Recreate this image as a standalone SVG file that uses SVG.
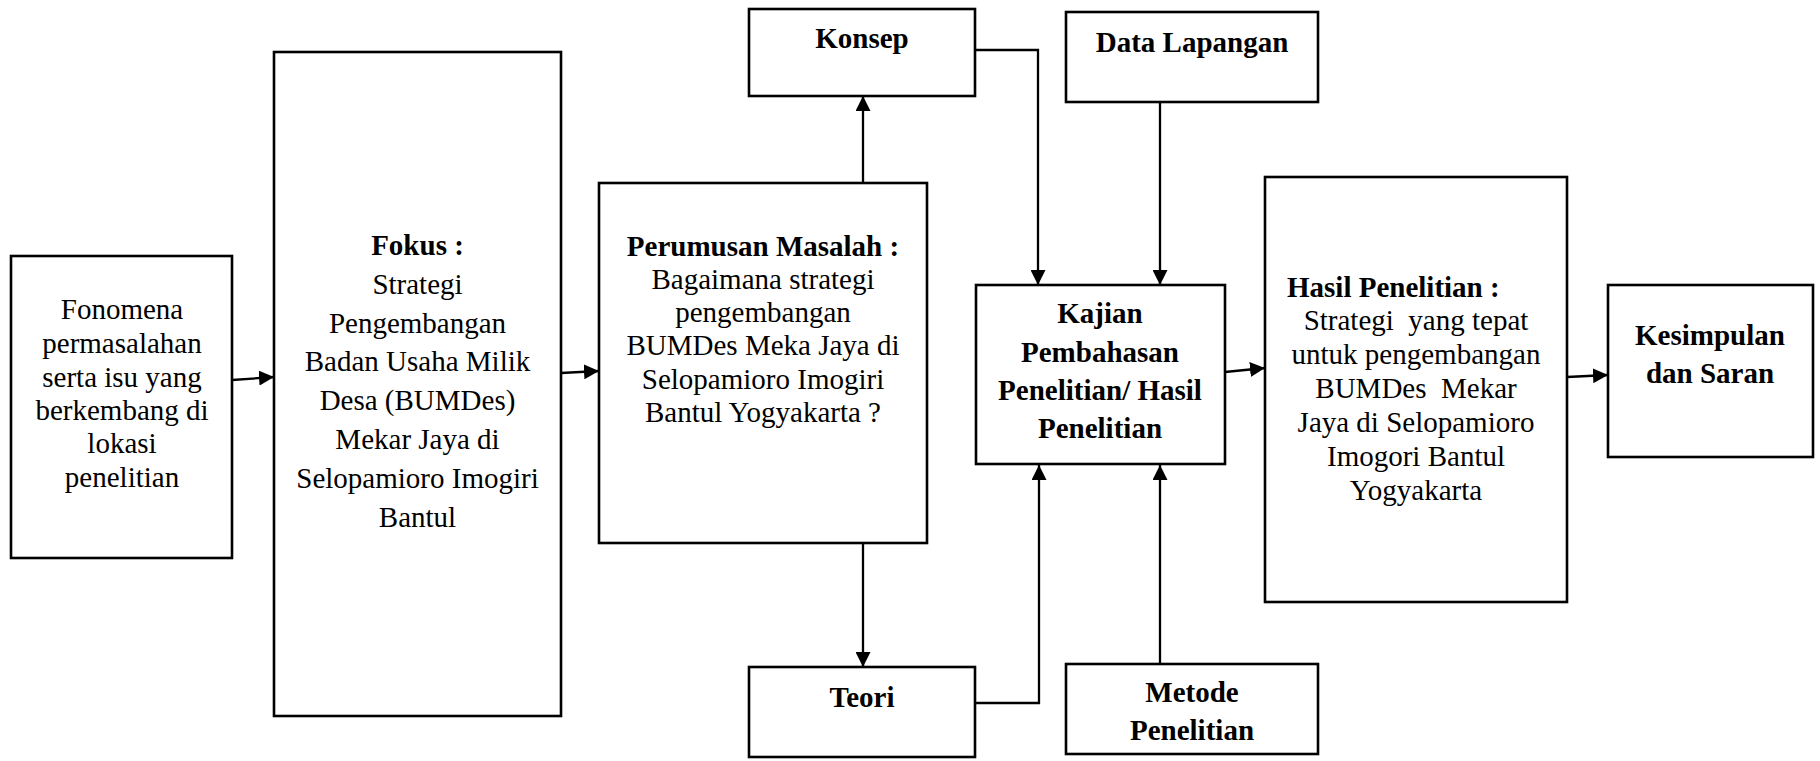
<svg xmlns="http://www.w3.org/2000/svg" width="1820" height="761" viewBox="0 0 1820 761">
<style>
.box{fill:#fff;stroke:#000;stroke-width:2.6}
.t{font-family:'Liberation Serif','Times New Roman',serif;font-size:29px;fill:#000;text-anchor:middle}
.b{font-weight:bold}
.ln{fill:none;stroke:#000;stroke-width:2.3}
</style>
<defs>
<marker id="ah" markerUnits="userSpaceOnUse" markerWidth="16" markerHeight="15" refX="15" refY="7.5" orient="auto">
<path d="M0,0 L15,7.5 L0,15 z" fill="#000"/>
</marker>
</defs>
<rect width="1820" height="761" fill="#fff"/>

<g id="connectors">
<line class="ln" x1="232" y1="380" x2="274" y2="377" marker-end="url(#ah)"/>
<line class="ln" x1="561" y1="373" x2="599" y2="371" marker-end="url(#ah)"/>
<line class="ln" x1="863" y1="183" x2="863" y2="96" marker-end="url(#ah)"/>
<line class="ln" x1="863" y1="543" x2="863" y2="667" marker-end="url(#ah)"/>
<polyline class="ln" points="975,50 1038,50 1038,285" marker-end="url(#ah)"/>
<line class="ln" x1="1160" y1="102" x2="1160" y2="285" marker-end="url(#ah)"/>
<polyline class="ln" points="975,703 1039,703 1039,465" marker-end="url(#ah)"/>
<line class="ln" x1="1160" y1="664" x2="1160" y2="465" marker-end="url(#ah)"/>
<line class="ln" x1="1225" y1="372" x2="1265" y2="368" marker-end="url(#ah)"/>
<line class="ln" x1="1567" y1="377" x2="1608" y2="375" marker-end="url(#ah)"/>
</g>

<g id="fonomena">
<rect class="box" x="11" y="256" width="221" height="302"/>
<text class="t" x="122" y="319">Fonomena</text>
<text class="t" x="122" y="353">permasalahan</text>
<text class="t" x="122" y="387">serta isu yang</text>
<text class="t" x="122" y="420">berkembang di</text>
<text class="t" x="122" y="453">lokasi</text>
<text class="t" x="122" y="487">penelitian</text>
</g>

<g id="fokus">
<rect class="box" x="274" y="52" width="287" height="664"/>
<text class="t b" x="417.5" y="255">Fokus :</text>
<text class="t" x="417.5" y="294">Strategi</text>
<text class="t" x="417.5" y="333">Pengembangan</text>
<text class="t" x="417.5" y="371">Badan Usaha Milik</text>
<text class="t" x="417.5" y="410">Desa (BUMDes)</text>
<text class="t" x="417.5" y="449">Mekar Jaya di</text>
<text class="t" x="417.5" y="488">Selopamioro Imogiri</text>
<text class="t" x="417.5" y="527">Bantul</text>
</g>

<g id="perumusan">
<rect class="box" x="599" y="183" width="328" height="360"/>
<text class="t b" x="763" y="256">Perumusan Masalah :</text>
<text class="t" x="763" y="289">Bagaimana strategi</text>
<text class="t" x="763" y="322">pengembangan</text>
<text class="t" x="763" y="355">BUMDes Meka Jaya di</text>
<text class="t" x="763" y="389">Selopamioro Imogiri</text>
<text class="t" x="763" y="422">Bantul Yogyakarta ?</text>
</g>

<g id="konsep">
<rect class="box" x="749" y="9" width="226" height="87"/>
<text class="t b" x="862" y="48">Konsep</text>
</g>

<g id="teori">
<rect class="box" x="749" y="667" width="226" height="90"/>
<text class="t b" x="862" y="707">Teori</text>
</g>

<g id="data-lapangan">
<rect class="box" x="1066" y="12" width="252" height="90"/>
<text class="t b" x="1192" y="52">Data Lapangan</text>
</g>

<g id="metode">
<rect class="box" x="1066" y="664" width="252" height="90"/>
<text class="t b" x="1192" y="702">Metode</text>
<text class="t b" x="1192" y="740">Penelitian</text>
</g>

<g id="kajian">
<rect class="box" x="976" y="285" width="249" height="179"/>
<text class="t b" x="1100" y="323">Kajian</text>
<text class="t b" x="1100" y="362">Pembahasan</text>
<text class="t b" x="1100" y="400">Penelitian/ Hasil</text>
<text class="t b" x="1100" y="438">Penelitian</text>
</g>

<g id="hasil">
<rect class="box" x="1265" y="177" width="302" height="425"/>
<text class="t b" x="1287" y="297" style="text-anchor:start">Hasil Penelitian :</text>
<text class="t" x="1416" y="330" xml:space="preserve">Strategi  yang tepat</text>
<text class="t" x="1416" y="364">untuk pengembangan</text>
<text class="t" x="1416" y="398" xml:space="preserve">BUMDes  Mekar</text>
<text class="t" x="1416" y="432">Jaya di Selopamioro</text>
<text class="t" x="1416" y="466">Imogori Bantul</text>
<text class="t" x="1416" y="500">Yogyakarta</text>
</g>

<g id="kesimpulan">
<rect class="box" x="1608" y="285" width="205" height="172"/>
<text class="t b" x="1710" y="345">Kesimpulan</text>
<text class="t b" x="1710" y="383">dan Saran</text>
</g>
</svg>
